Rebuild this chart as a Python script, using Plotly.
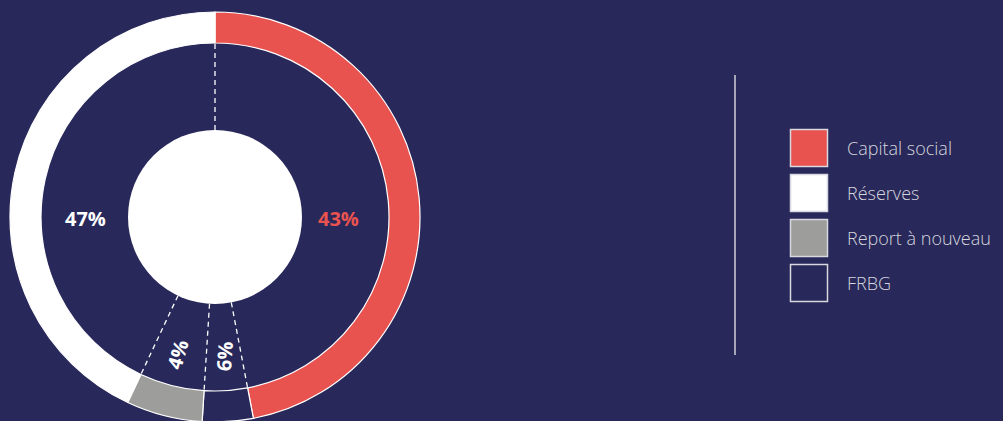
import math
import plotly.graph_objects as go

# ---- data ----
categories = ["Capital social", "FRBG", "Report à nouveau", "Réserves"]
ring_values = [47, 4, 6, 43]
label_texts = ["43%", "6%", "4%", "47%"]
legend_order = ["Capital social", "Réserves", "Report à nouveau", "FRBG"]

BG = "#28285a"
colors = {"Capital social": "#e8524f", "FRBG": BG,
          "Report à nouveau": "#9d9d9b", "Réserves": "#ffffff"}

W, H = 1003, 434
CX, CY = 215, 217
R_OUT, R_IN, R_HOLE = 205, 174, 87

fig = go.Figure()

# helper cartesian axis in pixel units
fig.update_layout(
    xaxis=dict(range=[0, W], visible=False, domain=[0, 1], fixedrange=True),
    yaxis=dict(range=[H, 0], visible=False, domain=[0, 1], fixedrange=True),
)

fig.add_trace(go.Pie(
    labels=categories, values=ring_values, sort=False, direction="clockwise",
    rotation=0, hole=R_IN / R_OUT, textinfo="none", hoverinfo="skip",
    marker=dict(colors=[colors[c] for c in categories],
                line=dict(color="#ffffff", width=1.2)),
    domain=dict(x=[(CX - R_OUT) / W, (CX + R_OUT) / W], y=[0, 1]),
    showlegend=False,
))

# dashed radial lines at slice boundaries
total = sum(ring_values)
cum = 0
for v in [0] + ring_values[:-1]:
    cum += v
    th = math.radians(cum / total * 360)
    xs = [CX + r * math.sin(th) for r in (R_HOLE, R_IN)]
    ys = [CY - r * math.cos(th) for r in (R_HOLE, R_IN)]
    fig.add_trace(go.Scatter(x=xs, y=ys, mode="lines", hoverinfo="skip",
                             line=dict(color="#ffffff", width=1.3, dash="5px,4px"),
                             showlegend=False))

# inner white disc
fig.add_shape(type="circle", xref="x", yref="y",
              x0=CX - R_HOLE, x1=CX + R_HOLE, y0=CY - R_HOLE, y1=CY + R_HOLE,
              fillcolor="#ffffff", line=dict(width=0), layer="above")

# percentage labels
label_pos = [(338, 218, 0, "#e8524f"), (224, 357, -86, "#ffffff"),
             (177, 355, -74, "#ffffff"), (85, 218, 0, "#ffffff")]
for txt, (x, y, ang, col) in zip(label_texts, label_pos):
    fig.add_annotation(x=x, y=y, xref="x", yref="y", text=f"<b>{txt}</b>",
                       showarrow=False, textangle=ang,
                       font=dict(family="Open Sans", size=20, color=col))

# legend
fig.add_shape(type="line", xref="x", yref="y", x0=735, x1=735, y0=75, y1=355,
              line=dict(color="#d0d0d8", width=1.5))
for i, name in enumerate(legend_order):
    top = 129.5 + 45 * i
    fig.add_shape(type="rect", xref="x", yref="y", x0=790.5, x1=827.5,
                  y0=top, y1=top + 37, fillcolor=colors[name],
                  line=dict(color="#d8d8e0", width=1.5))
    fig.add_annotation(x=845, y=top + 18.5, xref="x", yref="y", text=name,
                       showarrow=False, xanchor="left", yanchor="middle",
                       font=dict(family="Open Sans", size=18, color="#d6d6de", weight=300))

fig.update_layout(width=W, height=H, margin=dict(l=0, r=0, t=0, b=0),
                  paper_bgcolor=BG, plot_bgcolor=BG, showlegend=False)

fig.write_html("out.html", config={"displayModeBar": False},
               post_script="document.body.style.margin='0';document.body.style.overflow='hidden';")
